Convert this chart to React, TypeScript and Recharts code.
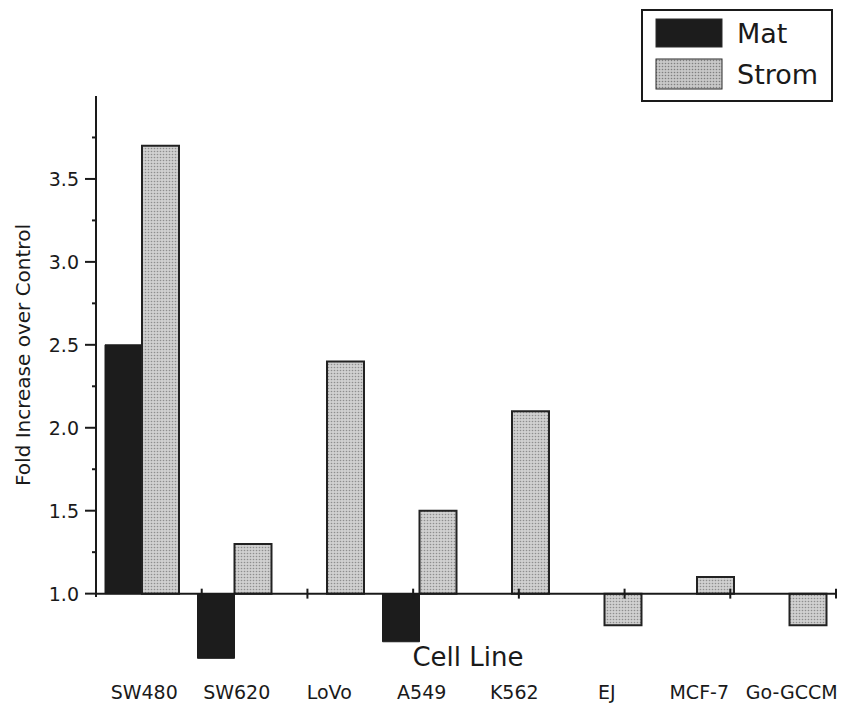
import React from 'react';
import { BarChart, Bar, XAxis, YAxis, ReferenceLine, Legend } from 'recharts';

const categories = ['SW480', 'SW620', 'LoVo', 'A549', 'K562', 'EJ', 'MCF-7', 'Go-GCCM'];
const matValues = [2.5, 0.61, 1.0, 0.71, 1.0, 1.0, 1.0, 1.0];
const stromValues = [3.7, 1.3, 2.4, 1.5, 2.1, 0.81, 1.1, 0.81];
const yTicks = [1.0, 1.25, 1.5, 1.75, 2.0, 2.25, 2.5, 2.75, 3.0, 3.25, 3.5, 3.75];
const boundaryTicks = [1, 2, 3, 4, 5, 6, 7, 8];
const baseline = 1.0;
const yTop = 4.0;

const FONT = '"DejaVu Sans", "Liberation Sans", Arial, sans-serif';
const INK = '#1a1a1a';

// bars hang from the 1.0 line, so each one is a [low, high] range
const data = categories.map((name, i) => ({
  name,
  mat: [Math.min(baseline, matValues[i]), Math.max(baseline, matValues[i])],
  strom: [Math.min(baseline, stromValues[i]), Math.max(baseline, stromValues[i])],
}));

const YTick = (props: any) => {
  const { x, y, payload } = props;
  const v = payload.value;
  const major = Math.abs(v * 2 - Math.round(v * 2)) < 1e-6;
  return (
    <g>
      <line x1={x - (major ? 11 : 4)} x2={x} y1={y} y2={y} stroke={INK} strokeWidth={2} />
      {major && (
        <text x={x - 17} y={y} textAnchor="end" dominantBaseline="central" fontFamily={FONT} fontSize={19} fill={INK}>
          {v.toFixed(1)}
        </text>
      )}
    </g>
  );
};

const XTick = (props: any) => {
  const { x, y, payload } = props;
  return (
    <text x={x + 2} y={y + 39} textAnchor="middle" fontFamily={FONT} fontSize={19} fill={INK}>
      {payload.value}
    </text>
  );
};

const CellLineLabel = (props: any) => {
  const vb = props.viewBox || {};
  return (
    <text x={vb.x + vb.width / 2 + 2} y={vb.y + 6} textAnchor="middle" fontFamily={FONT} fontSize={26} fill={INK}>
      Cell Line
    </text>
  );
};

const YLabel = () => (
  <text
    x={23}
    y={355}
    transform="rotate(-90, 23, 355)"
    textAnchor="middle"
    dominantBaseline="central"
    fontFamily={FONT}
    fontSize={20}
    fill={INK}
  >
    Fold Increase over Control
  </text>
);

const LegendBox = (props: any) => {
  const items = props.payload || [];
  return (
    <div style={{ width: 192, height: 93, border: `2px solid ${INK}`, boxSizing: 'border-box', background: '#fff' }}>
      <svg width={188} height={89}>
        <defs>
          <pattern id="stippleLegend" width="3" height="3" patternUnits="userSpaceOnUse">
            <rect width="3" height="3" fill="#c8c8c8" />
            <circle cx="1.5" cy="1.5" r="0.8" fill="#808080" />
          </pattern>
        </defs>
        {items.map((it: any, i: number) => {
          const top = i === 0 ? 8 : 48;
          const h = i === 0 ? 28 : 30;
          const fill = it.dataKey === 'strom' ? 'url(#stippleLegend)' : '#1c1c1c';
          return (
            <g key={it.value}>
              <rect x={13} y={top} width={66} height={h} fill={fill} stroke="#2a2a2a" strokeWidth={1} />
              <text x={94} y={top + h / 2} dominantBaseline="central" fontFamily={FONT} fontSize={27} fill={INK}>
                {it.value}
              </text>
            </g>
          );
        })}
      </svg>
    </div>
  );
};

export default function App() {
  return (
    <div style={{ position: 'absolute', left: 0, top: 0, width: 853, height: 708, background: '#fff' }}>
      <BarChart
        width={853}
        height={708}
        data={data}
        margin={{ top: 96, right: 17, bottom: 0, left: 0 }}
        barGap={0}
        barSize={37}
      >
        <defs>
          <pattern id="stipple" width="3" height="3" patternUnits="userSpaceOnUse">
            <rect width="3" height="3" fill="#d0d0d0" />
            <circle cx="1.5" cy="1.5" r="0.8" fill="#8e8e8e" />
          </pattern>
        </defs>
        <XAxis
          dataKey="name"
          height={48}
          axisLine={false}
          tickLine={false}
          tickSize={0}
          tickMargin={0}
          interval={0}
          tick={<XTick />}
          label={<CellLineLabel />}
        />
        <XAxis xAxisId="n" type="number" domain={[0, 8]} hide />
        <YAxis
          width={96}
          domain={[0.6, yTop]}
          ticks={yTicks}
          interval={0}
          axisLine={false}
          tickLine={false}
          tickSize={0}
          tickMargin={0}
          tick={<YTick />}
          label={<YLabel />}
        />
        <Legend
          content={<LegendBox />}
          layout="horizontal"
          verticalAlign="middle"
          align="center"
          wrapperStyle={{ position: 'absolute', top: 9, left: 641, width: 192, height: 93 }}
        />
        <Bar dataKey="mat" name="Mat" fill="#1c1c1c" stroke="#1c1c1c" strokeWidth={1} isAnimationActive={false} />
        <Bar dataKey="strom" name="Strom" fill="url(#stipple)" stroke="#222" strokeWidth={2} isAnimationActive={false} />
        <ReferenceLine xAxisId="n" y={baseline} stroke={INK} strokeWidth={2} />
        <ReferenceLine
          xAxisId="n"
          segment={[{ x: 0, y: baseline - 0.02 }, { x: 0, y: yTop }]}
          stroke={INK}
          strokeWidth={2}
        />
        {boundaryTicks.map((t) => (
          <ReferenceLine
            key={t}
            xAxisId="n"
            segment={[{ x: t, y: baseline - 0.03 }, { x: t, y: baseline + 0.03 }]}
            stroke={INK}
            strokeWidth={2}
          />
        ))}
      </BarChart>
    </div>
  );
}
